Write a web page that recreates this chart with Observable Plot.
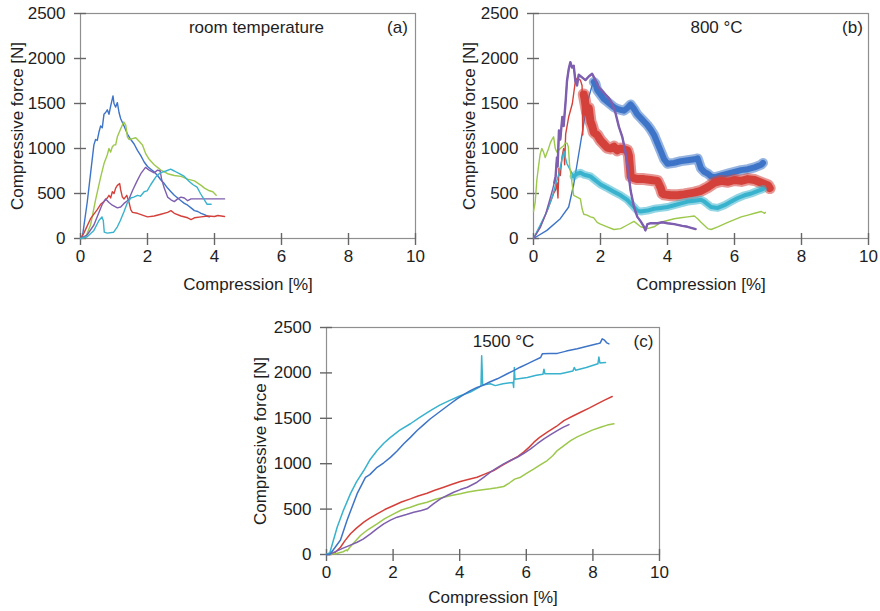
<!DOCTYPE html>
<html><head><meta charset="utf-8">
<script src="https://cdn.jsdelivr.net/npm/d3@7"></script>
<script src="https://cdn.jsdelivr.net/npm/@observablehq/plot@0.6"></script>
<style>
body{margin:0;background:#fff;}
#wrap{position:relative;width:880px;height:611px;overflow:hidden;background:#fff;}
.panel{position:absolute;}
</style></head><body><div id="wrap">
<div class="panel" id="pa" style="left:0px;top:0px"></div>
<div class="panel" id="pb" style="left:440px;top:0px"></div>
<div class="panel" id="pc" style="left:240px;top:310px"></div>
</div>
<script>
// ---------- texts & ticks ----------
const xTicks = [0, 2, 4, 6, 8, 10];
const yTicks = [0, 500, 1000, 1500, 2000, 2500];
const xLabel = "Compression [%]";
const yLabel = "Compressive force [N]";
const panelTitles = ["room temperature", "800 °C", "1500 °C"];
const panelTags = ["(a)", "(b)", "(c)"];

// ---------- (a) room temperature : [compression %, force N] ----------
const aBlue = [[0,0],[0.06,30],[0.2,400],[0.3,720],[0.4,1040],[0.45,1100],[0.5,1090],[0.55,1180],[0.6,1250],[0.65,1230],[0.7,1380],[0.75,1400],[0.8,1430],[0.85,1380],[0.9,1470],[0.97,1585],[1.0,1500],[1.05,1460],[1.1,1510],[1.15,1400],[1.2,1330],[1.3,1250],[1.4,1160],[1.5,1100],[1.6,1050],[1.7,980],[1.8,920],[1.9,850],[2.0,800],[2.1,770],[2.2,740],[2.3,700],[2.4,650],[2.5,610],[2.6,560],[2.7,520],[2.8,480],[2.9,450],[3.0,420],[3.1,390],[3.2,370],[3.3,340],[3.4,310],[3.5,300],[3.6,280],[3.7,265],[3.8,245],[3.85,240]];
const aRed = [[0,0],[0.1,60],[0.3,220],[0.5,320],[0.6,380],[0.7,410],[0.8,450],[0.85,480],[0.9,450],[0.95,520],[1.0,500],[1.05,560],[1.1,590],[1.17,610],[1.2,540],[1.25,460],[1.3,440],[1.38,480],[1.45,400],[1.5,320],[1.55,290],[1.7,280],[1.85,260],[2.0,240],[2.2,250],[2.4,270],[2.6,290],[2.7,310],[2.8,280],[3.0,250],[3.2,230],[3.3,210],[3.4,230],[3.6,240],[3.8,250],[4.0,245],[4.1,255],[4.3,245]];
const aGreen = [[0,0],[0.15,10],[0.3,150],[0.45,430],[0.6,680],[0.7,830],[0.8,930],[0.85,1000],[0.9,960],[0.95,1020],[1.0,1040],[1.05,1040],[1.1,1130],[1.2,1220],[1.29,1295],[1.35,1260],[1.4,1130],[1.45,1100],[1.55,1110],[1.65,1120],[1.75,1080],[1.85,1040],[1.95,940],[2.05,880],[2.2,820],[2.4,760],[2.6,720],[2.8,700],[3.0,690],[3.2,660],[3.4,640],[3.6,590],[3.7,560],[3.85,530],[3.95,520],[4.05,480]];
const aPurple = [[0,0],[0.2,40],[0.4,150],[0.55,290],[0.65,380],[0.75,440],[0.85,400],[0.95,370],[1.1,340],[1.2,350],[1.3,390],[1.44,430],[1.55,530],[1.69,640],[1.8,720],[1.94,790],[2.05,760],[2.2,730],[2.3,760],[2.38,750],[2.42,660],[2.5,560],[2.6,460],[2.7,430],[2.8,410],[2.9,440],[3.0,460],[3.1,450],[3.2,420],[3.3,440],[3.5,440],[3.8,440],[4.0,440],[4.3,440]];
const aCyan = [[0,0],[0.2,20],[0.4,90],[0.55,200],[0.64,240],[0.68,200],[0.71,70],[0.8,60],[0.99,70],[1.1,130],[1.19,200],[1.3,300],[1.39,390],[1.5,450],[1.59,460],[1.7,480],[1.79,470],[1.9,520],[1.99,530],[2.1,600],[2.24,680],[2.35,720],[2.44,737],[2.55,750],[2.69,770],[2.8,750],[2.95,720],[3.1,690],[3.23,640],[3.35,600],[3.48,570],[3.58,500],[3.68,440],[3.78,380],[3.9,380]];

// ---------- (b) 800 °C ----------
const bBlue = [[0,0],[0.4,90],[0.8,220],[1.05,350],[1.2,600],[1.4,1050],[1.55,1390],[1.65,1570],[1.75,1700],[1.8,1740],[1.85,1720],[1.9,1650],[2.0,1600],[2.1,1550],[2.2,1520],[2.3,1490],[2.4,1460],[2.5,1440],[2.6,1430],[2.7,1420],[2.8,1450],[2.9,1490],[3.0,1440],[3.1,1380],[3.2,1340],[3.3,1300],[3.4,1260],[3.5,1210],[3.6,1150],[3.7,1060],[3.8,970],[3.9,880],[4.0,830],[4.2,840],[4.4,860],[4.6,870],[4.8,880],[4.9,890],[5.0,780],[5.1,740],[5.2,720],[5.3,690],[5.4,680],[5.6,700],[5.8,720],[6.0,740],[6.2,760],[6.4,770],[6.6,790],[6.8,820],[6.85,840]];
const bRed = [[0,0],[0.2,130],[0.4,300],[0.5,400],[0.6,500],[0.66,540],[0.7,620],[0.73,450],[0.76,780],[0.8,700],[0.85,900],[0.9,1000],[0.93,820],[0.96,1160],[1.05,1350],[1.16,1500],[1.25,1750],[1.3,1780],[1.4,1760],[1.45,1700],[1.47,1150],[1.5,1600],[1.55,1500],[1.6,1400],[1.65,1450],[1.7,1300],[1.75,1250],[1.8,1180],[1.9,1150],[2.0,1090],[2.1,1050],[2.2,1010],[2.3,1000],[2.4,1020],[2.5,980],[2.6,1000],[2.7,990],[2.8,980],[2.85,920],[2.9,690],[3.0,670],[3.1,660],[3.3,660],[3.5,650],[3.7,640],[3.8,560],[3.85,500],[3.9,490],[4.1,480],[4.3,480],[4.5,490],[4.8,510],[5.0,530],[5.2,570],[5.4,620],[5.6,640],[5.8,630],[6.0,650],[6.2,640],[6.4,660],[6.6,650],[6.8,620],[7.0,590],[7.05,560]];
const bGreen = [[0,300],[0.05,400],[0.1,650],[0.15,800],[0.2,940],[0.25,1000],[0.3,960],[0.35,900],[0.4,950],[0.45,1000],[0.5,1060],[0.55,1100],[0.6,1130],[0.65,1000],[0.7,960],[0.75,980],[0.8,1000],[0.9,1030],[0.95,1060],[1.0,1060],[1.04,1020],[1.08,800],[1.12,700],[1.2,480],[1.3,460],[1.4,440],[1.45,330],[1.5,270],[1.6,260],[1.7,240],[1.8,230],[1.9,180],[2.0,160],[2.2,130],[2.4,100],[2.6,110],[2.8,150],[3.0,190],[3.2,130],[3.4,110],[3.6,130],[3.8,180],[4.0,200],[4.2,220],[4.4,230],[4.6,240],[4.8,250],[4.9,220],[5.0,180],[5.2,110],[5.3,100],[5.5,130],[5.8,180],[6.0,210],[6.2,240],[6.4,260],[6.6,280],[6.8,300],[6.9,280],[6.92,290]];
const bPurple = [[0,0],[0.2,120],[0.36,270],[0.5,450],[0.56,530],[0.62,620],[0.66,690],[0.7,900],[0.72,800],[0.76,1200],[0.8,1100],[0.86,1350],[0.9,1250],[0.96,1530],[1.0,1750],[1.05,1880],[1.1,1960],[1.15,1900],[1.2,1920],[1.25,1750],[1.3,1700],[1.35,1820],[1.45,1790],[1.55,1760],[1.65,1800],[1.75,1830],[1.85,1760],[1.95,1680],[2.05,1640],[2.15,1600],[2.25,1560],[2.35,1500],[2.45,1390],[2.55,1240],[2.65,1130],[2.75,950],[2.8,830],[2.9,530],[3.0,350],[3.1,240],[3.2,190],[3.3,130],[3.34,90],[3.4,160],[3.5,170],[3.7,170],[3.85,180],[4.0,170],[4.2,160],[4.44,140],[4.6,130],[4.84,105]];
const bCyan = [[0,0],[0.2,150],[0.4,300],[0.56,460],[0.66,600],[0.76,720],[0.86,900],[0.91,970],[0.95,900],[1.0,830],[1.1,760],[1.2,690],[1.3,720],[1.4,730],[1.5,710],[1.6,700],[1.7,690],[1.8,660],[1.9,630],[2.0,600],[2.2,560],[2.4,520],[2.6,480],[2.8,430],[2.9,390],[3.0,350],[3.1,310],[3.2,300],[3.4,310],[3.6,330],[3.8,340],[4.0,350],[4.2,370],[4.4,390],[4.6,410],[4.8,420],[5.0,430],[5.1,410],[5.3,350],[5.5,340],[5.7,370],[5.9,410],[6.1,450],[6.3,480],[6.5,500],[6.7,530],[6.85,550]];

// ---------- (c) 1500 °C ----------
const cBlue = [[0,0],[0.1,0],[0.2,50],[0.42,160],[0.62,380],[0.92,670],[1.17,850],[1.3,880],[1.52,960],[1.72,1010],[1.92,1070],[2.12,1140],[2.32,1220],[2.52,1290],[2.72,1365],[2.92,1430],[3.12,1495],[3.32,1550],[3.52,1605],[3.72,1660],[3.92,1715],[4.12,1760],[4.32,1805],[4.52,1840],[4.68,1860],[4.9,1900],[5.13,1935],[5.4,1985],[5.62,2025],[5.8,2060],[6.03,2100],[6.23,2135],[6.43,2170],[6.48,2210],[6.7,2215],[6.93,2215],[7.2,2240],[7.53,2265],[7.8,2290],[8.13,2320],[8.22,2330],[8.28,2375],[8.35,2360],[8.42,2330],[8.48,2320]];
const cRed = [[0,0],[0.1,0],[0.25,20],[0.42,80],[0.55,150],[0.72,228],[0.9,290],[1.12,356],[1.3,400],[1.52,448],[1.75,495],[2.02,540],[2.25,578],[2.52,613],[2.75,645],[3.02,675],[3.25,708],[3.52,741],[3.75,770],[4.02,804],[4.25,825],[4.52,851],[4.75,885],[5.02,925],[5.25,975],[5.53,1035],[5.75,1080],[5.92,1127],[6.08,1180],[6.23,1237],[6.4,1290],[6.63,1347],[6.9,1410],[7.13,1475],[7.4,1525],[7.63,1567],[7.9,1615],[8.13,1659],[8.35,1700],[8.58,1740]];
const cGreen = [[0,0],[0.3,10],[0.5,30],[0.6,50],[0.62,40],[0.7,80],[1.02,209],[1.25,275],[1.52,338],[1.75,395],[2.02,448],[2.25,490],[2.52,521],[2.75,550],[3.02,576],[3.25,605],[3.52,631],[3.75,650],[4.02,668],[4.25,688],[4.52,705],[4.75,715],[4.92,723],[5.12,735],[5.32,749],[5.5,790],[5.65,830],[5.83,851],[6.03,900],[6.23,943],[6.43,990],[6.63,1035],[6.8,1090],[6.93,1145],[7.13,1200],[7.33,1255],[7.53,1295],[7.73,1329],[7.98,1370],[8.23,1402],[8.43,1425],[8.63,1439]];
const cPurple = [[0,0],[0.2,20],[0.5,70],[0.7,100],[0.92,135],[1.1,170],[1.32,228],[1.52,285],[1.72,338],[1.92,378],[2.12,411],[2.4,440],[2.62,466],[2.85,485],[3.02,503],[3.2,555],[3.42,613],[3.62,650],[3.82,686],[4.02,715],[4.23,741],[4.52,796],[4.72,850],[4.92,906],[5.12,955],[5.32,998],[5.52,1035],[5.73,1071],[5.93,1115],[6.13,1163],[6.33,1220],[6.53,1274],[6.73,1320],[6.93,1365],[7.1,1400],[7.28,1431]];
const cCyan = [[0,0],[0.1,20],[0.32,300],[0.5,480],[0.72,670],[0.9,800],[1.12,925],[1.3,1040],[1.52,1145],[1.72,1225],[1.92,1290],[2.2,1370],[2.52,1440],[2.8,1510],[3.12,1585],[3.4,1645],[3.72,1700],[4.0,1745],[4.32,1790],[4.55,1835],[4.64,1858],[4.66,2190],[4.69,1866],[4.92,1880],[5.07,1860],[5.3,1880],[5.6,1895],[5.62,1840],[5.64,2060],[5.66,1930],[6.03,1950],[6.3,1975],[6.5,1985],[6.53,2040],[6.56,1990],[7.03,1990],[7.4,2020],[7.44,2060],[7.48,2030],[7.8,2060],[8.15,2100],[8.18,2175],[8.21,2110],[8.38,2115]];

// ---------- styling ----------
const colors = {blue: "#3d74c7", red: "#d4413b", green: "#9cc84b", purple: "#7e5eae", cyan: "#38b2cd"};
const FONT = "'Liberation Sans', Arial, Helvetica, sans-serif";
const TICK = "#666666";

function toRows(obj) {
  return Object.entries(obj).flatMap(([s, pts]) => pts.map(([x, y]) => ({s, x, y})));
}

function makePanel(cfg) {
  const rows = toRows(cfg.series);
  const innerW = cfg.width - cfg.ml - cfg.mr;
  const innerH = cfg.height - cfg.mt - cfg.mb;
  const lineMarks = [];
  for (const name of cfg.order) {
    const d = rows.filter(r => r.s === name);
    lineMarks.push(Plot.line(d, {x: "x", y: "y", stroke: colors[name], strokeWidth: cfg.thin, strokeLinejoin: "round", strokeLinecap: "round"}));
    const band = cfg.bands && cfg.bands[name];
    if (band) {
      const part = d.filter(r => r.x >= band.from);
      if (band.width > 4) {
        lineMarks.push(Plot.line(part, {x: "x", y: "y", stroke: colors[name], strokeWidth: band.width + 2, strokeOpacity: 0.55, strokeLinejoin: "round"}));
        lineMarks.push(Plot.line(part, {x: "x", y: "y", stroke: colors[name], strokeWidth: band.width - 2, strokeLinejoin: "round"}));
      } else {
        lineMarks.push(Plot.line(part, {x: "x", y: "y", stroke: colors[name], strokeWidth: band.width, strokeLinejoin: "round"}));
      }
    }
  }
  return Plot.plot({
    width: cfg.width, height: cfg.height,
    marginLeft: cfg.ml, marginRight: cfg.mr, marginTop: cfg.mt, marginBottom: cfg.mb,
    style: {fontFamily: FONT, fontSize: "17px", color: "#1e1e1e", background: "transparent", overflow: "visible"},
    x: {domain: [0, 10]},
    y: {domain: [0, 2500]},
    marks: [
      Plot.frame({stroke: "#8f8f8f", strokeWidth: 1.2}),
      // short tick marks crossing the bottom and left frame edges
      Plot.tickX(xTicks, {x: d => d, stroke: TICK, strokeWidth: 1.4, insetTop: innerH - 5, insetBottom: -7}),
      Plot.tickY(yTicks, {y: d => d, stroke: TICK, strokeWidth: 1.4, insetLeft: -6, insetRight: innerW - 6}),
      Plot.axisX({ticks: xTicks, tickSize: 0, tickPadding: 11, tickFormat: d => String(d), label: xLabel, labelAnchor: "center", labelArrow: "none", labelOffset: cfg.xLabOff}),
      Plot.axisY({ticks: yTicks, tickSize: 0, tickPadding: 15, tickFormat: d => String(d), label: yLabel, labelAnchor: "center", labelArrow: "none", labelOffset: cfg.yLabOff}),
      ...lineMarks,
      Plot.text([cfg.title], {text: d => d, frameAnchor: "top-left", dx: cfg.titleDx, dy: cfg.textDy, lineAnchor: "middle", textAnchor: "middle"}),
      Plot.text([cfg.tag], {text: d => d, frameAnchor: "top-left", dx: cfg.tagDx, dy: cfg.textDy, lineAnchor: "middle", textAnchor: "middle"})
    ]
  });
}

document.getElementById("pa").append(makePanel({
  series: {blue: aBlue, red: aRed, green: aGreen, purple: aPurple, cyan: aCyan},
  order: ["blue", "green", "red", "purple", "cyan"],
  width: 440, height: 300, ml: 80, mr: 25, mt: 13, mb: 62,
  thin: 1.4, xLabOff: 51, yLabOff: 70,
  title: panelTitles[0], tag: panelTags[0], titleDx: 176, tagDx: 317, textDy: 14
}));

document.getElementById("pb").append(makePanel({
  series: {blue: bBlue, red: bRed, green: bGreen, purple: bPurple, cyan: bCyan},
  order: ["blue", "red", "cyan", "green", "purple"],
  bands: {blue: {from: 1.8, width: 8}, red: {from: 1.5, width: 10}, cyan: {from: 1.2, width: 6}, purple: {from: 0.6, width: 2.4}},
  width: 440, height: 300, ml: 93, mr: 12, mt: 13, mb: 62,
  thin: 1.4, xLabOff: 51, yLabOff: 71,
  title: panelTitles[1], tag: panelTags[1], titleDx: 183, tagDx: 319, textDy: 14
}));

document.getElementById("pc").append(makePanel({
  series: {blue: cBlue, red: cRed, green: cGreen, purple: cPurple, cyan: cCyan},
  order: ["red", "green", "purple", "cyan", "blue"],
  width: 440, height: 301, ml: 86, mr: 21, mt: 17, mb: 57,
  thin: 1.5, xLabOff: 48, yLabOff: 73,
  title: panelTitles[2], tag: panelTags[2], titleDx: 177, tagDx: 317, textDy: 14
}));
</script>
</body></html>
